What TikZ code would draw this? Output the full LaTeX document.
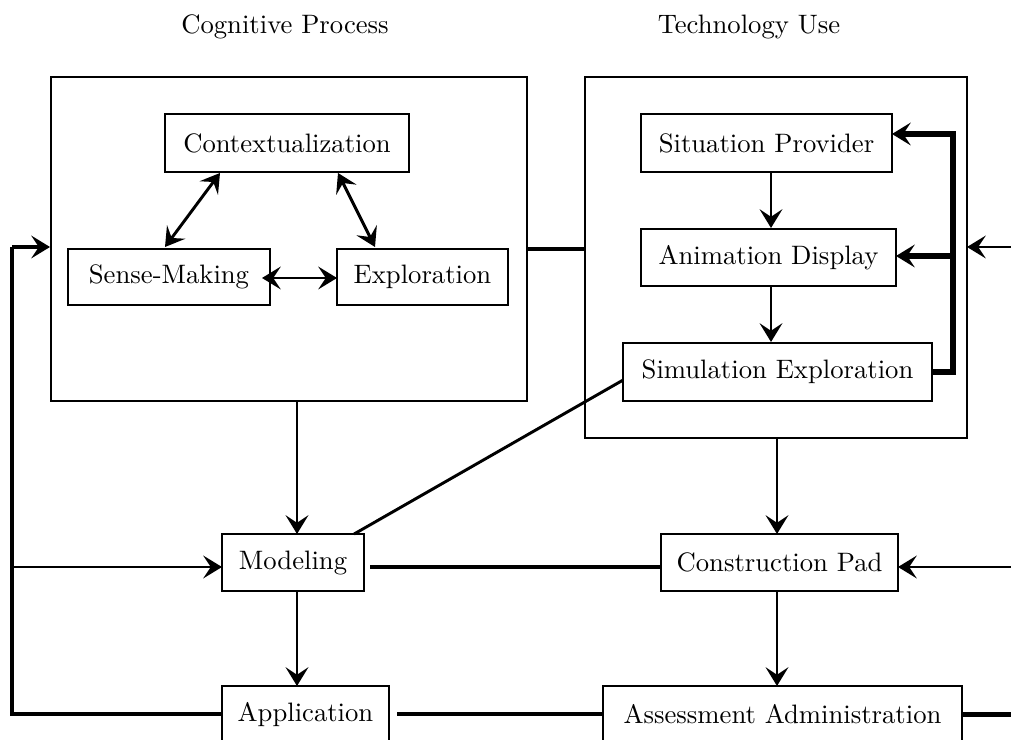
\documentclass[tikz,border=0pt]{standalone}
\usetikzlibrary{arrows.meta,calc}
\tikzset{
  box/.style={draw, line width=0.45pt, inner sep=0pt, outer sep=0pt, font=\fontsize{10}{12}\selectfont},
  frame/.style={draw, line width=0.45pt, inner sep=0pt, outer sep=0pt},
  title/.style={font=\fontsize{10}{12}\selectfont},
  tip/.style={-{Stealth[length=7pt,width=8.5pt,inset=2.8pt]}},
  dtip/.style={{Stealth[length=7pt,width=8.5pt,inset=2.8pt]}-{Stealth[length=7pt,width=8.5pt,inset=2.8pt]}},
  arr/.style={line width=1.1pt},
  thk/.style={line width=1.5pt},
  vthk/.style={line width=2pt},
}
\begin{document}
\begin{tikzpicture}[x=0.375pt,y=-0.375pt]
\clip (0,0) rectangle (1011,740);
\useasboundingbox (0,0) rectangle (1011,740);
% titles
\node[title] (t1) at (285,27) {Cognitive Process};
\node[title] (t2) at (749,27) {Technology Use};
% frames
\node[frame, minimum width=476*0.375pt, minimum height=324*0.375pt] (cog) at (289,239) {};
\node[frame, minimum width=382*0.375pt, minimum height=361*0.375pt] (tec) at (776,257.5) {};
% inner boxes
\node[box, minimum width=244*0.375pt, minimum height=58*0.375pt] (ctx) at (287,143) {Contextualization};
\node[box, minimum width=202*0.375pt, minimum height=56*0.375pt] (sm) at (169,277) {Sense-Making};
\node[box, minimum width=171*0.375pt, minimum height=56*0.375pt] (exp) at (422.5,277) {Exploration};
\node[box, minimum width=251*0.375pt, minimum height=58*0.375pt] (sit) at (766.5,143) {Situation Provider};
\node[box, minimum width=255*0.375pt, minimum height=57*0.375pt] (ani) at (768.5,257.5) {Animation Display};
\node[box, minimum width=309*0.375pt, minimum height=58*0.375pt] (sim) at (777.5,372) {Simulation Exploration};
\node[box, minimum width=142*0.375pt, minimum height=57*0.375pt] (mod) at (293,562.5) {Modeling};
\node[box, minimum width=237*0.375pt, minimum height=57*0.375pt] (cp) at (779.5,562.5) {Construction Pad};
\node[box, minimum width=167*0.375pt, minimum height=57*0.375pt] (app) at (305.5,714.5) {Application};
\node[box, minimum width=359*0.375pt, minimum height=57*0.375pt] (aa) at (782.5,714.5) {Assessment Administration};
% coordinates
\coordinate (lx1) at (12,714.5);
\coordinate (lx2) at (12,247);
\coordinate (lx3) at (12,567);
\coordinate (rx1) at (1011,247);
\coordinate (rx2) at (1011,567);
\coordinate (rx3) at (1011,714.5);
\coordinate (fb1) at (953,372);
\coordinate (fb2) at (953,134);
\coordinate (fb3) at (953,256);
% cognitive triangle
\draw[arr,dtip] ($(ctx.south west)+(55,1)$) -- ($(sm.north)+(-4,-2)$);
\draw[arr,dtip] ($(ctx.south east)+(-71,1)$) -- ($(exp.north west)+(38,-2)$);
\draw[arr,dtip] ($(sm.east)+(-8,1)$) -- ($(exp.west)+(0,1)$);
% tech chain
\draw[arr,tip] ($(sit.south)+(4.5,0)$) -- ($(ani.north)+(2.5,-1)$);
\draw[arr,tip] ($(ani.south)+(2.5,0)$) -- ($(sim.north)+(-6.5,-1)$);
\draw[vthk,tip] (sim.east) -- (fb1) -- (fb2) -- ($(sit.east)+(0,-9)$);
\draw[vthk,tip] (fb3) -- ($(ani.east)+(0,-1.5)$);
% between frames
\draw[thk] (cog.east |- 0,249) -- (tec.west |- 0,249);
% down arrows
\draw[arr,tip] (cog.south -| 297,0) -- (mod.north -| 297,0);
\draw[arr,tip] (mod.south -| 297,0) -- (app.north -| 297,0);
\draw[arr,tip] (tec.south -| 777,0) -- (cp.north -| 777,0);
\draw[arr,tip] (cp.south -| 777,0) -- (aa.north -| 777,0);
% sim to modeling
\draw[line width=1.1pt] (sim.183) -- (mod.25);
% horizontal lines
\draw[thk] ($(mod.east |- 0,567)+(6,0)$) -- (cp.west |- 0,567);
\draw[thk] ($(app.east)+(8,0)$) -- (aa.west);
\draw[vthk] (aa.east) -- (rx3);
\draw[arr,tip] (rx2) -- (cp.east |- 0,567);
\draw[arr,tip] (rx1) -- (tec.east |- 0,247);
% left feedback
\draw[thk] (app.west) -- (lx1) -- (lx2);
\draw[thk,tip] (lx2) -- ($(cog.west |- 0,247)+(-1,0)$);
\draw[arr,tip] (lx3) -- (mod.west |- 0,567);
\end{tikzpicture}
\end{document}
